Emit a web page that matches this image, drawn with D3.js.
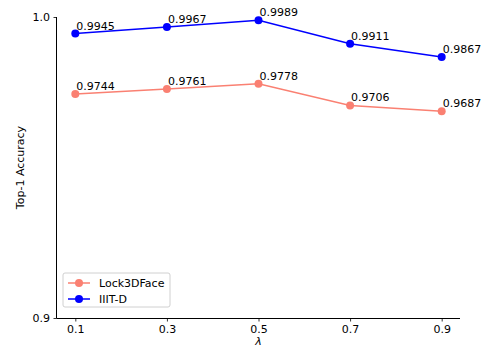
<!DOCTYPE html>
<html>
<head>
<meta charset="utf-8">
<script src="https://cdn.jsdelivr.net/npm/d3@7"></script>
<style>
  body { margin: 0; background: #fff; }
  svg text { font-family: 'DejaVu Sans', sans-serif; fill: #000; }
</style>
</head>
<body>
<div id="chart"></div>
<script>
const lambdas = [0.1, 0.3, 0.5, 0.7, 0.9]
const lock3dface = [0.9744, 0.9761, 0.9778, 0.9706, 0.9687]
const iiitd = [0.9945, 0.9967, 0.9989, 0.9911, 0.9867]
const yTicks = [0.9, 1.0]

const series = [
  {name: 'Lock3DFace', color: '#fa8072', values: lock3dface},
  {name: 'IIIT-D', color: '#0000ff', values: iiitd}
]

const width = 488, height = 349
const margin = {top: 17, right: 28, bottom: 31, left: 57}
const w = width - margin.left - margin.right
const h = height - margin.top - margin.bottom

const svg = d3.select('#chart').append('svg')
  .attr('width', width).attr('height', height)

const g = svg.append('g')
  .attr('transform', 'translate(' + margin.left + ',' + margin.top + ')')

const x = d3.scaleLinear().domain([0.06, 0.94]).range([0, w])
const y = d3.scaleLinear().domain([0.9, 1.0]).range([h, 0])

// axes
const xAxis = g.append('g').attr('transform', 'translate(0,' + h + ')')
  .call(d3.axisBottom(x).tickValues(lambdas).tickSize(3.5).tickPadding(3.5)
    .tickFormat(d3.format('.1f')))
const yAxis = g.append('g')
  .call(d3.axisLeft(y).tickValues(yTicks).tickSize(3.5).tickPadding(3.5)
    .tickFormat(d3.format('.1f')))

;[xAxis, yAxis].forEach(a => {
  a.select('.domain').attr('stroke', '#000').attr('stroke-width', 1)
    .attr('d', a === xAxis ? 'M0,0.5H' + w : 'M-0.5,0V' + h)
  a.selectAll('.tick line').attr('stroke', '#000').attr('stroke-width', 0.8)
  a.selectAll('.tick text').attr('font-size', 11).attr('font-family', 'DejaVu Sans')
})

// axis labels
svg.append('text')
  .attr('transform', 'translate(24,' + (margin.top + h / 2) + ') rotate(-90)')
  .attr('text-anchor', 'middle').attr('font-size', 11)
  .text('Top-1 Accuracy')

svg.append('text')
  .attr('x', margin.left + x(0.5)).attr('y', 345)
  .attr('text-anchor', 'middle').attr('font-size', 11).attr('font-style', 'italic')
  .text('λ')

// lines
const line = d3.line().x((d, i) => x(lambdas[i])).y(d => y(d))

series.forEach(s => {
  g.append('path').datum(s.values)
    .attr('fill', 'none').attr('stroke', s.color).attr('stroke-width', 1.5)
    .attr('d', line)
  g.selectAll(null).data(s.values).enter().append('circle')
    .attr('cx', (d, i) => x(lambdas[i])).attr('cy', d => y(d))
    .attr('r', 4).attr('fill', s.color)
  g.selectAll(null).data(s.values).enter().append('text')
    .attr('x', (d, i) => x(lambdas[i]) + 1).attr('y', d => y(d) - 4)
    .attr('font-size', 11)
    .text(d => d3.format('.4f')(d))
})

// legend
const lg = svg.append('g').attr('transform', 'translate(63,273)')
lg.append('rect').attr('width', 107).attr('height', 34).attr('rx', 2)
  .attr('fill', '#fff').attr('fill-opacity', 0.8)
  .attr('stroke', '#d0d0d0').attr('stroke-width', 1)
series.forEach((s, i) => {
  const yy = 10 + i * 16
  lg.append('line').attr('x1', 5).attr('x2', 27).attr('y1', yy).attr('y2', yy)
    .attr('stroke', s.color).attr('stroke-width', 1.5)
  lg.append('circle').attr('cx', 16).attr('cy', yy).attr('r', 4).attr('fill', s.color)
  lg.append('text').attr('x', 36).attr('y', yy + 4).attr('font-size', 11).text(s.name)
})
</script>
</body>
</html>
